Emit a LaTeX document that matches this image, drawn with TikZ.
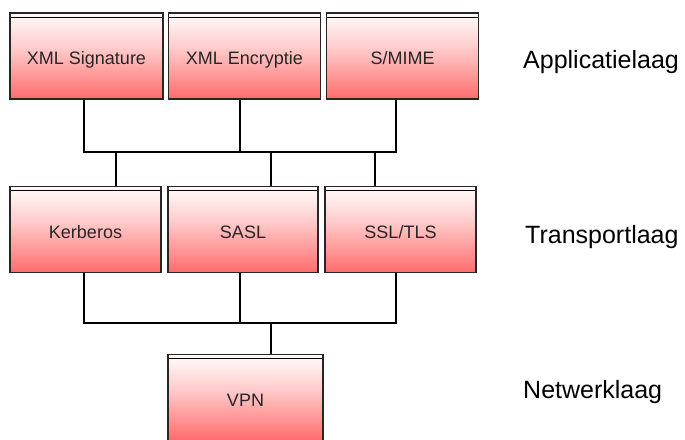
\documentclass[tikz,border=0pt]{standalone}
\usepackage{fontspec}
\setmainfont{Liberation Sans}
\pgfdeclareverticalshading{boxshade}{100bp}{color(0bp)=(red!90); color(12bp)=(red!75); color(35bp)=(red!45); color(55bp)=(red!20); color(72bp)=(red!4); color(100bp)=(white)}
\begin{document}
\begin{tikzpicture}[x=1pt,y=-1pt,
  layerbox/.style={draw=black!85, line width=1.2pt, shading=boxshade, inner sep=0pt,
    minimum height=86pt, text=black!85, font=\fontsize{18}{20}\selectfont,
    text depth=0pt, text height=17pt,
    path picture={\draw[black, line width=1pt] ([yshift=-4pt]path picture bounding box.north west) -- ([yshift=-4pt]path picture bounding box.north east);}},
  conn/.style={draw=black, line width=1.2pt},
  layerlabel/.style={anchor=base west, inner sep=0pt, font=\fontsize{25}{30}\selectfont}]
\useasboundingbox (0,0) rectangle (685,439);
% top row
\node[layerbox, minimum width=153pt] (xs) at (86.5,56) {XML Signature};
\node[layerbox, minimum width=152pt] (xe) at (244.5,56) {XML Encryptie};
\node[layerbox, minimum width=152pt] (sm) at (402.5,56) {S/MIME};
% middle row
\node[layerbox, minimum width=151pt] (kb) at (85.5,229.5) {Kerberos};
\node[layerbox, minimum width=150pt] (sa) at (243,229.5) {SASL};
\node[layerbox, minimum width=151pt] (st) at (400.5,229.5) {SSL/TLS};
% bottom
\node[layerbox, minimum width=155pt] (vp) at (245.5,397.5) {VPN};
% labels
\node[layerlabel] (l1) at (523,68) {Applicatielaag};
\node[layerlabel] (l2) at (525,243) {Transportlaag};
\node[layerlabel] (l3) at (523,398) {Netwerklaag};
% upper bus
\coordinate (ua) at (84,152);
\coordinate (ub) at (240,152);
\coordinate (uc) at (396,152);
\coordinate (ud) at (116,152);
\coordinate (ue) at (271,152);
\coordinate (uf) at (375,152);
\draw[conn] (xs.south -| ua) -- (ua) -- (uc) -- (sm.south -| uc);
\draw[conn] (xe.south -| ub) -- (ub);
\draw[conn] (ud) -- (kb.north -| ud);
\draw[conn] (ue) -- (sa.north -| ue);
\draw[conn] (uf) -- (st.north -| uf);
% lower bus
\coordinate (la) at (84,323);
\coordinate (lb) at (240,323);
\coordinate (lc) at (396,323);
\coordinate (ld) at (271,323);
\draw[conn] (kb.south -| la) -- (la) -- (lc) -- (st.south -| lc);
\draw[conn] (sa.south -| lb) -- (lb);
\draw[conn] (ld) -- (vp.north -| ld);
\end{tikzpicture}
\end{document}
